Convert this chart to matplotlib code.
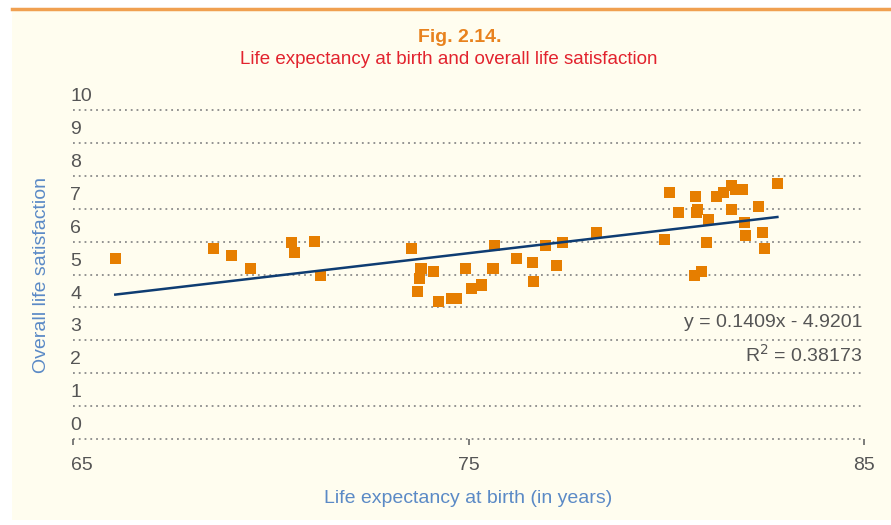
import numpy as np
import matplotlib.pyplot as plt
import matplotlib.transforms as mtransforms
from matplotlib.patches import Rectangle

# data
life_exp = [66.07, 68.55, 69.00, 69.48, 70.52, 70.60, 71.10, 71.25,
            73.55, 73.80, 73.75, 73.70, 74.11, 74.24, 74.58, 74.70, 74.92,
            75.07, 75.32, 75.62, 75.65, 76.21, 76.61, 76.64, 76.94, 77.22,
            77.37, 78.23,
            80.08, 79.96, 80.31, 80.74, 80.79, 80.76, 80.71, 80.89, 81.01,
            81.06, 81.26, 81.44, 81.64, 81.75, 81.92, 81.64, 81.98, 82.00,
            82.33, 82.43, 82.48, 82.81]
satisfaction = [5.49, 5.80, 5.58, 5.19, 5.98, 5.68, 5.99, 4.98,
                5.80, 5.19, 4.89, 4.49, 5.10, 4.19, 4.28, 4.28, 5.19,
                4.58, 4.68, 5.19, 5.89, 5.49, 5.37, 4.80, 5.89, 5.28,
                5.98, 6.28,
                7.49, 6.07, 6.89, 7.37, 6.98, 6.88, 4.98, 5.10, 5.98,
                6.67, 7.37, 7.49, 7.70, 7.58, 7.58, 6.97, 6.59, 6.19,
                7.07, 6.28, 5.80, 7.77]
slope = 0.1409
intercept = -4.9201
r2 = 0.38173
x_ticks = [65, 75, 85]
y_ticks = list(range(0, 11))

plt.rcParams['font.family'] = ['Liberation Sans Narrow', 'Liberation Sans', 'DejaVu Sans']

fig = plt.figure(figsize=(8.91, 5.25), dpi=100)
fig.patch.set_facecolor('white')

# cream panel and orange top rule
fig.patches.append(Rectangle((12/891, 0.01), 1, (525-9)/525 - 0.01,
                             transform=fig.transFigure, facecolor='#fffdef',
                             edgecolor='none', zorder=-5))
fig.lines.append(plt.Line2D([12/891, 1], [1 - 9/525, 1 - 9/525],
                            transform=fig.transFigure, color='#f0a050', lw=2.5,
                            zorder=-4))

ax = fig.add_axes([73/891, 86/525, 791/891, 329/525])
ax.set_facecolor('none')
ax.set_xlim(65, 85)
ax.set_ylim(0, 10)

for v in y_ticks:
    ax.axhline(v, color='#8a8a8a', lw=1.3, linestyle=(0, (1, 2.2)), zorder=1, clip_on=False)
    ax.annotate(str(v), (65, v), xytext=(-2, 3.5), textcoords='offset points',
                ha='left', va='bottom', fontsize=14, color='#555555')

ax.scatter(life_exp, satisfaction, marker='s', s=64, color='#e67e00',
           edgecolors='none', zorder=3)

xs = np.array([min(life_exp), max(life_exp)])
ax.plot(xs, slope * xs + intercept, color='#0e3c72', lw=1.8, zorder=4)

ax.text(84.95, 3.55, 'y = 0.1409x - 4.9201', ha='right', va='center',
        fontsize=14, color='#555555')
ax.text(84.95, 2.55, 'R$^2$ = %.5f' % r2, ha='right', va='center',
        fontsize=14, color='#555555')

for s in ax.spines.values():
    s.set_visible(False)
ax.set_yticks([])
ax.set_xticks(x_ticks)
ax.set_xticklabels([str(t) for t in x_ticks], fontsize=14, color='#555555')
ax.tick_params(axis='x', length=4.3, width=1.2, color='#666666', pad=9)
first = ax.get_xticklabels()[0]
first.set_horizontalalignment('left')
first.set_transform(first.get_transform() +
                    mtransforms.ScaledTranslation(-2/100, 0, fig.dpi_scale_trans))

ax.set_xlabel('Life expectancy at birth (in years)', fontsize=14,
              color='#5b8ac6', labelpad=11)
fig.text(42/891, 1 - 275/525, 'Overall life satisfaction', rotation=90,
         ha='center', va='center', fontsize=14, color='#5b8ac6')

fig.text(460/891, 1 - 37/525, 'Fig. 2.14.', ha='center', va='center',
         fontsize=14, fontweight='bold', color='#e8821e')
fig.text(449/891, 1 - 60/525, 'Life expectancy at birth and overall life satisfaction',
         ha='center', va='center', fontsize=13.5, color='#e2232e')

fig.savefig('out.png', dpi=100)
